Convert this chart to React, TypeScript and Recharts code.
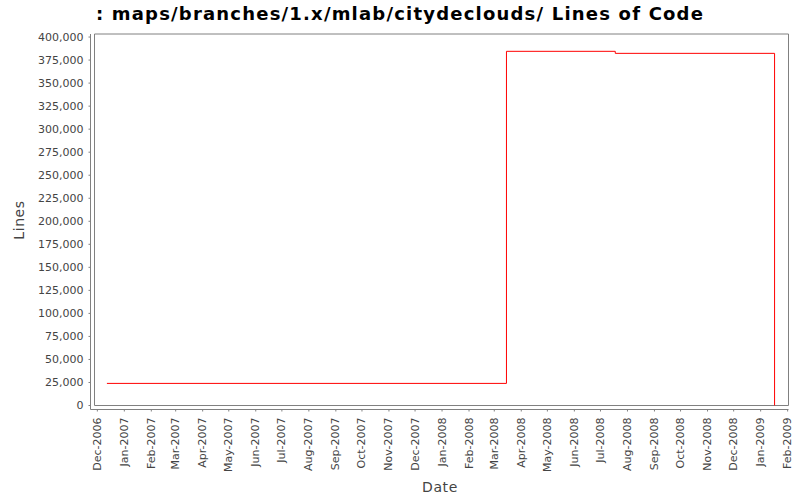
import { Line, LineChart, ReferenceArea, XAxis, YAxis } from "recharts";

// commit dates (UTC) and total lines at each change
const commitDates = ["2006-12-12", "2008-03-15", "2008-07-18", "2009-01-17"];
const lineCounts = [24000, 384500, 382300, 0];

const monthLabels = [
  "Dec-2006", "Jan-2007", "Feb-2007", "Mar-2007", "Apr-2007", "May-2007", "Jun-2007",
  "Jul-2007", "Aug-2007", "Sep-2007", "Oct-2007", "Nov-2007", "Dec-2007", "Jan-2008",
  "Feb-2008", "Mar-2008", "Apr-2008", "May-2008", "Jun-2008", "Jul-2008", "Aug-2008",
  "Sep-2008", "Oct-2008", "Nov-2008", "Dec-2008", "Jan-2009", "Feb-2009",
];

const yTicks = [
  0, 25000, 50000, 75000, 100000, 125000, 150000, 175000, 200000, 225000, 250000,
  275000, 300000, 325000, 350000, 375000, 400000,
];

const MONTHS = ["Jan", "Feb", "Mar", "Apr", "May", "Jun", "Jul", "Aug", "Sep", "Oct", "Nov", "Dec"];
const parseMonth = (label: string) => {
  const [m, y] = label.split("-");
  return Date.UTC(Number(y), MONTHS.indexOf(m), 1);
};
const monthTicks = monthLabels.map(parseMonth);
const labelFor = new Map(monthTicks.map((t, i) => [t, monthLabels[i]]));

const data = commitDates.map((d, i) => ({ t: Date.parse(d + "T00:00:00Z"), lines: lineCounts[i] }));

const X_MIN = Date.UTC(2006, 10, 27, 18);
const X_MAX = Date.UTC(2009, 1, 2);
const Y_MAX = 403300;

const FONT = "'DejaVu Sans', sans-serif";
const GREY = "#808080";
const TEXT = "#444444";

function DateTick(props: any) {
  const { x, y, payload } = props;
  return (
    <text
      x={x}
      y={y}
      transform={`rotate(-90, ${x}, ${y})`}
      textAnchor="end"
      dominantBaseline="central"
      fontSize={11}
      fontFamily={FONT}
      fill={TEXT}
    >
      {labelFor.get(payload.value)}
    </text>
  );
}

export default function App() {
  return (
    <div style={{ position: "absolute", left: 0, top: 0, width: 800, height: 500, background: "#fff" }}>
      <div
        style={{
          position: "absolute",
          left: 0,
          top: 2,
          width: 800,
          textAlign: "center",
          fontFamily: FONT,
          fontWeight: "bold",
          fontSize: 18,
          letterSpacing: 1.2,
          lineHeight: "24px",
          color: "#000",
        }}
      >
        : maps/branches/1.x/mlab/citydeclouds/ Lines of Code
      </div>
      <LineChart
        width={800}
        height={500}
        data={data}
        margin={{ top: 34, right: 11.5, bottom: 0, left: 0 }}
      >
        <XAxis
          dataKey="t"
          type="number"
          scale="time"
          domain={[X_MIN, X_MAX]}
          ticks={monthTicks}
          interval={0}
          height={90.5}
          padding={{ left: 4, right: 0 }}
          stroke={GREY}
          tickSize={2}
          tickMargin={6}
          tick={<DateTick />}
          label={{
            content: () => (
              <text
                x={440}
                y={492}
                textAnchor="middle"
                fontSize={14}
                letterSpacing={0.6}
                fontFamily={FONT}
                fill={TEXT}
              >
                Date
              </text>
            ),
          }}
        />
        <YAxis
          type="number"
          domain={[0, Y_MAX]}
          ticks={yTicks}
          interval={0}
          width={90.5}
          padding={{ top: 0, bottom: 4 }}
          stroke={GREY}
          tickSize={2}
          tickMargin={5}
          tick={{ fontSize: 11, fontFamily: FONT, fill: TEXT }}
          tickFormatter={(v: number) => v.toLocaleString("en-US")}
          label={{
            content: () => (
              <text
                x={24}
                y={220}
                transform="rotate(-90, 24, 220)"
                textAnchor="middle"
                fontSize={14}
                letterSpacing={0.6}
                fontFamily={FONT}
                fill={TEXT}
              >
                Lines
              </text>
            ),
          }}
        />
        <ReferenceArea
          x1={X_MIN}
          x2={X_MAX}
          y1={0}
          y2={Y_MAX}
          fill="none"
          stroke={GREY}
          strokeWidth={1}
        />
        <Line
          type="stepAfter"
          dataKey="lines"
          stroke="#ff0000"
          strokeWidth={1}
          dot={false}
          isAnimationActive={false}
        />
      </LineChart>
    </div>
  );
}
